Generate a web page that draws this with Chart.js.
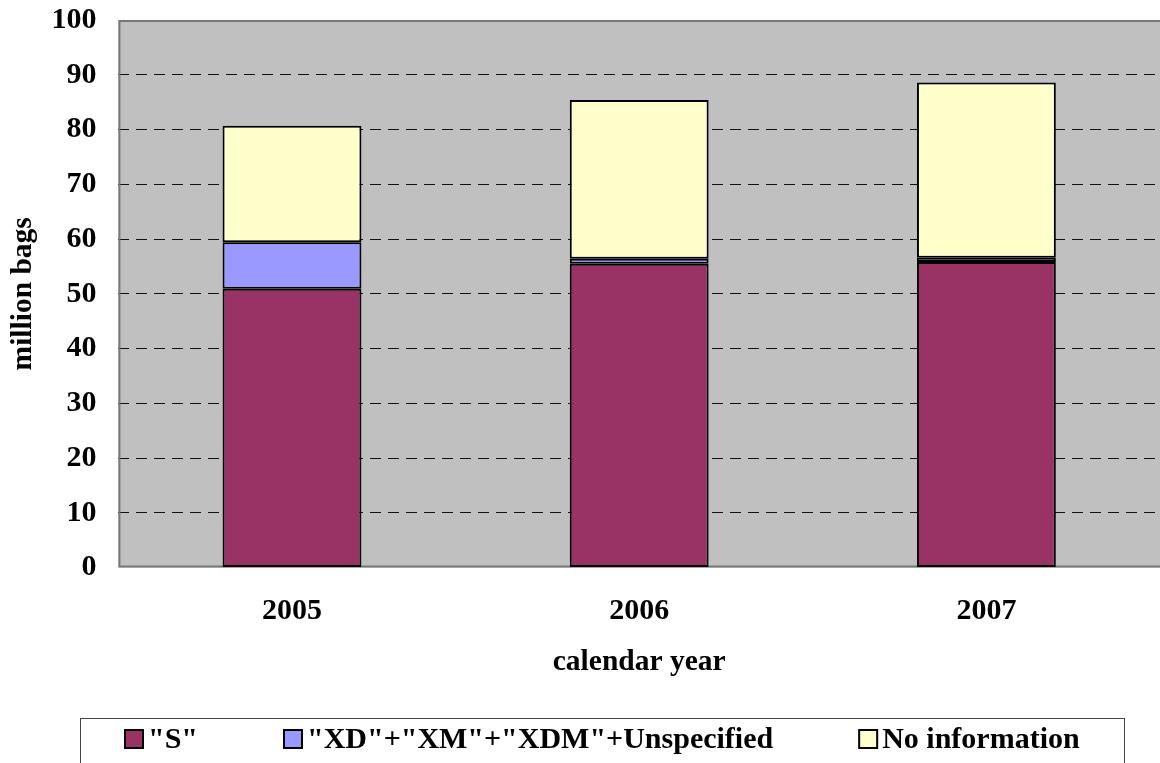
<!DOCTYPE html>
<html>
<head>
<meta charset="utf-8">
<script src="https://cdn.jsdelivr.net/npm/chart.js@4.4.1/dist/chart.umd.min.js"></script>
<style>
  html, body { margin: 0; padding: 0; background: #fff; overflow: hidden; }
  #wrap { width: 1160px; height: 763px; }
</style>
</head>
<body>
<div id="wrap"><canvas id="chart" width="1160" height="763"></canvas></div>
<script>
// values, million bags per calendar year
const years = ['2005', '2006', '2007']
const sBags = [50.9, 55.5, 55.8]
const xdBags = [8.5, 0.9, 0.8]
const noInfoBags = [21.3, 29.0, 32.0]

const yMax = 100
const yStep = 10

const serif = "'Liberation Serif', 'Times New Roman', serif"
Chart.defaults.font.family = serif
Chart.defaults.font.weight = 'bold'
Chart.defaults.font.size = 30
Chart.defaults.color = '#000'

// grey plot background and its frame (right edge runs off the picture)
const plotFrame = {
  id: 'plotFrame',
  beforeDraw(chart) {
    const {ctx, chartArea: a} = chart
    ctx.save()
    ctx.fillStyle = '#c0c0c0'
    ctx.fillRect(a.left, a.top, a.right - a.left, a.bottom - a.top)
    ctx.restore()
  },
  beforeDatasetsDraw(chart) {
    const {ctx, chartArea: a} = chart
    ctx.save()
    ctx.strokeStyle = '#777'
    ctx.lineWidth = 2
    ctx.beginPath()
    ctx.moveTo(a.right, a.top + 1)
    ctx.lineTo(a.left + 1, a.top + 1)
    ctx.lineTo(a.left + 1, a.bottom - 1)
    ctx.lineTo(a.right, a.bottom - 1)
    ctx.stroke()
    ctx.restore()
  }
}

// boxed legend along the bottom
const boxLegend = {
  id: 'boxLegend',
  afterDraw(chart) {
    const {ctx} = chart
    const frame = {left: 80, top: 718, right: 1124}
    const midY = 739, box = 18, textGap = 5, itemGap = 86
    ctx.save()
    ctx.font = `bold 30px ${serif}`
    ctx.textBaseline = 'middle'
    ctx.strokeStyle = '#444'
    ctx.lineWidth = 1
    ctx.strokeRect(frame.left + 0.5, frame.top + 0.5, frame.right - frame.left, chart.height)

    const items = chart.data.datasets.map(ds => ({
      label: ds.label, color: ds.backgroundColor, w: ctx.measureText(ds.label).width
    }))
    const total = items.reduce((s, it) => s + box + textGap + it.w, 0) + itemGap * (items.length - 1)
    let x = Math.round((frame.left + frame.right) / 2 - total / 2)
    items.forEach(it => {
      ctx.fillStyle = it.color
      ctx.fillRect(x, midY - box / 2, box, box)
      ctx.strokeStyle = '#000'
      ctx.lineWidth = 2
      ctx.strokeRect(x, midY - box / 2, box, box)
      ctx.fillStyle = '#000'
      ctx.fillText(it.label, x + box + textGap, midY + 1)
      x += box + textGap + it.w + itemGap
    })
    ctx.restore()
  }
}

const barStyle = {borderColor: '#000', borderWidth: 2, borderSkipped: false, barPercentage: 1, categoryPercentage: 0.4}

new Chart(document.getElementById('chart'), {
  type: 'bar',
  data: {
    labels: years,
    datasets: [
      {label: '"S"', data: sBags, backgroundColor: '#993366', ...barStyle},
      {label: '"XD"+"XM"+"XDM"+Unspecified', data: xdBags, backgroundColor: '#9999ff', ...barStyle},
      {label: 'No information', data: noInfoBags, backgroundColor: '#ffffcc', ...barStyle}
    ]
  },
  options: {
    responsive: false,
    animation: false,
    layout: {padding: {left: 4, top: 0, right: 0, bottom: 83}},
    plugins: {
      legend: {display: false},
      tooltip: {enabled: false}
    },
    scales: {
      x: {
        stacked: true,
        grid: {display: false, drawTicks: false},
        border: {display: false},
        ticks: {padding: 26},
        title: {display: true, text: 'calendar year', font: {size: 29.5}, padding: {top: -11, bottom: 0}}
      },
      y: {
        stacked: true,
        min: 0,
        max: yMax,
        ticks: {stepSize: yStep, padding: 2},
        border: {display: false, dash: [11, 7]},
        grid: {
          drawTicks: true,
          tickLength: 20,
          tickColor: 'rgba(0,0,0,0)',
          lineWidth: 1,
          color: ctx => (ctx.tick && (ctx.tick.value === 0 || ctx.tick.value === yMax)) ? 'rgba(0,0,0,0)' : '#111'
        },
        title: {display: true, text: 'million bags', font: {size: 29.5}, padding: {top: 2, bottom: 8}}
      }
    }
  },
  plugins: [plotFrame, boxLegend]
})
</script>
</body>
</html>
